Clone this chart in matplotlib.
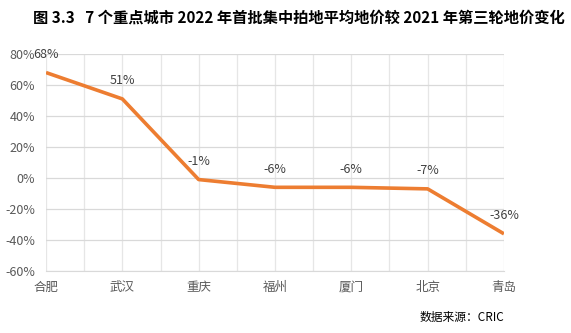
import numpy as np
import matplotlib
matplotlib.use('Agg')
from matplotlib import pyplot as plt

plt.rcParams['font.family'] = ['Noto Sans CJK SC', 'DejaVu Sans']

cities = ['合肥', '武汉', '重庆', '福州', '厦门', '北京', '青岛']
change = [68, 51, -1, -6, -6, -7, -36]
labels = ['68%', '51%', '-1%', '-6%', '-6%', '-7%', '-36%']

fig = plt.figure(figsize=(5.71, 3.33), dpi=100)
ax = fig.add_axes([0.0806, 0.186, 0.802, 0.652])

x = np.arange(len(cities))
ax.plot(x, change, color='#ED7D31', lw=2.6, solid_capstyle='butt', zorder=3)

for xi, v, t in zip(x, change, labels):
  ax.annotate(t, (xi, v), xytext=(0, 13), textcoords='offset points',
              ha='center', va='center', fontsize=9, color='#404040')

ax.set_xlim(0, len(cities) - 1)
ax.set_ylim(-60, 80)
ax.set_yticks(np.arange(-60, 81, 20))
ax.set_yticklabels([f'{v}%' for v in range(-60, 81, 20)])
ax.set_xticks(x)
ax.set_xticklabels(cities)
ax.set_xticks(np.arange(0.5, len(cities) - 1, 1.0), minor=True)

ax.grid(axis='y', color='#D9D9D9', lw=0.9)
ax.grid(axis='x', which='both', color='#E6E6E6', lw=0.9)
ax.set_axisbelow(True)
ax.tick_params(axis='both', which='both', length=0, labelsize=9, labelcolor='#595959')
ax.tick_params(axis='y', pad=8)
ax.tick_params(axis='x', pad=7)
for s in ['top', 'right', 'left']:
  ax.spines[s].set_visible(False)
ax.spines['bottom'].set_color('#D9D9D9')

fig.text(0.058, 0.948, '图 3.3   7 个重点城市 2022 年首批集中拍地平均地价较 2021 年第三轮地价变化',
         fontsize=11, fontweight='bold', ha='left', va='center', color='black')
fig.text(0.884, 0.048, '数据来源：CRIC', fontsize=8.5, ha='right', va='center', color='black')

fig.savefig('out.png', dpi=100)
